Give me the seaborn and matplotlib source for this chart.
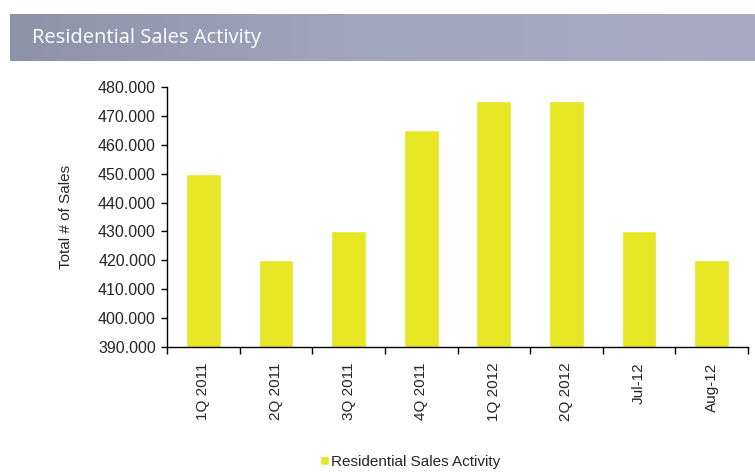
import matplotlib
matplotlib.use("Agg")
import matplotlib.pyplot as plt
import matplotlib.ticker as mticker
import seaborn as sns
import numpy as np

periods = ["1Q 2011", "2Q 2011", "3Q 2011", "4Q 2011", "1Q 2012", "2Q 2012", "Jul-12", "Aug-12"]
sales = [450, 420, 430, 465, 475, 475, 430, 420]
series_name = "Residential Sales Activity"
chart_title = "Residential Sales Activity"

sns.set_theme(style="white")
plt.rcParams["font.family"] = ["Liberation Sans", "DejaVu Sans"]

fig = plt.figure(figsize=(7.55, 4.72), dpi=100)
fig.patch.set_facecolor("white")

# header band with a soft gradient
band = fig.add_axes([10 / 755, 1 - 61 / 472, 745 / 755, 47 / 472])
grad = np.linspace(0, 1, 256).reshape(1, -1)
cmap = matplotlib.colors.LinearSegmentedColormap.from_list("band", ["#8e92a9", "#a3a6bf", "#abaac6"])
band.imshow(grad, aspect="auto", cmap=cmap, extent=[0, 1, 0, 1])
band.set_axis_off()
band.text(0.03, 0.5, chart_title, color="white", fontsize=14.5, family="Open Sans",
          va="center", ha="left", transform=band.transAxes)

ax = fig.add_axes([167 / 755, 1 - 347 / 472, 581 / 755, 260 / 472])
sns.barplot(x=periods, y=sales, color="#e6e624", width=0.48, saturation=1,
            label=series_name, legend=False, ax=ax)
if ax.get_legend() is not None:
    ax.get_legend().remove()

ax.set_ylim(390, 480)
ax.set_xlim(-0.5, len(periods) - 0.5)
ax.yaxis.set_major_locator(mticker.MultipleLocator(10))
ax.yaxis.set_major_formatter(mticker.FuncFormatter(lambda v, p: f"{v:.3f}"))
ax.set_ylabel("Total # of Sales", fontsize=11, labelpad=18)
ax.set_xlabel("")

for s in ["top", "right"]:
    ax.spines[s].set_visible(False)
for s in ["left", "bottom"]:
    ax.spines[s].set_color("black")
    ax.spines[s].set_linewidth(1.0)

ax.tick_params(axis="y", which="major", direction="out", length=4, width=1, color="black",
               labelsize=11.5, pad=4, left=True)
ax.set_xticks(np.arange(len(periods)))
ax.set_xticklabels(periods, rotation=90, fontsize=11)
ax.set_xticks(np.arange(-0.5, len(periods)), minor=True)
ax.tick_params(axis="x", which="major", length=0, pad=11)
ax.tick_params(axis="x", which="minor", direction="out", length=5, width=1, color="black", bottom=True)

handles, labels = ax.get_legend_handles_labels()
leg = fig.legend(handles, labels, loc="center", bbox_to_anchor=(410 / 755, 1 - 462 / 472), frameon=False,
                 fontsize=11, handlelength=0.6, handleheight=0.6, handletextpad=0.1)

fig.savefig("out.png", dpi=100, facecolor="white")
